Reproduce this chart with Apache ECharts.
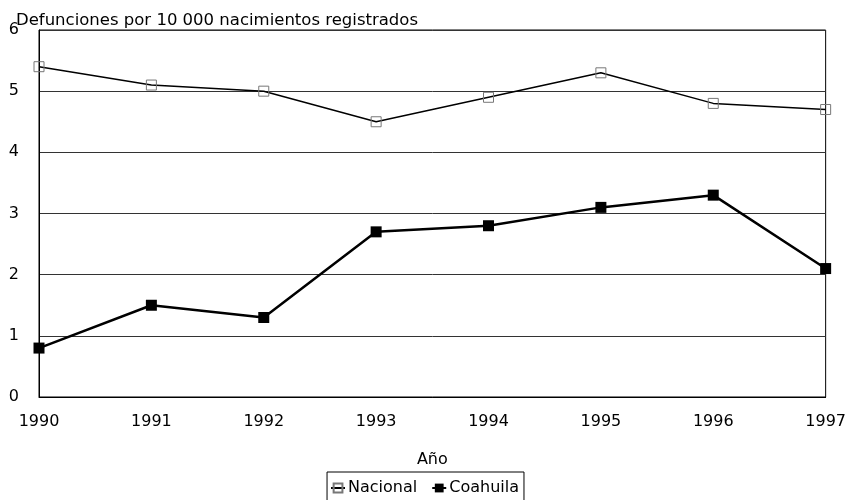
<!DOCTYPE html>
<html>
<head>
<meta charset="utf-8">
<script src="https://cdn.jsdelivr.net/npm/echarts@6/dist/echarts.min.js"></script>
<style>
  html, body { margin: 0; padding: 0; background: #fff; }
  #chart { width: 849px; height: 500px; }
</style>
</head>
<body>
<div id="chart"></div>
<script>
// datos
const years = ['1990', '1991', '1992', '1993', '1994', '1995', '1996', '1997']
const nacional = [5.4, 5.1, 5.0, 4.5, 4.9, 5.3, 4.8, 4.7]
const coahuila = [0.8, 1.5, 1.3, 2.7, 2.8, 3.1, 3.3, 2.1]

const chart = echarts.init(document.getElementById('chart'))
const font = 'DejaVu Sans, sans-serif'

chart.setOption({
  animation: false,
  textStyle: { fontFamily: font },
  title: {
    text: 'Defunciones por 10 000 nacimientos registrados',
    left: 11,
    top: 7,
    textStyle: { fontSize: 16.5, fontWeight: 'normal', color: '#000', fontFamily: font },
  },
  grid: {
    left: 39,
    right: 19,
    top: 30,
    bottom: 103,
    show: true,
    borderColor: '#000',
    borderWidth: 1,
  },
  legend: {
    data: ['Nacional', 'Coahuila'],
    top: 472,
    left: 'center',
    itemGap: 14,
    itemWidth: 14,
    itemHeight: 11,
    padding: [8, 5, 5, 3],
    borderColor: '#000',
    borderWidth: 1,
    borderRadius: 0,
    textStyle: { fontSize: 16, color: '#000', fontFamily: font, padding: [0, 0, 0, -2] },
  },
  xAxis: {
    type: 'category',
    boundaryGap: false,
    data: years,
    name: 'Año',
    nameLocation: 'middle',
    nameGap: 55,
    nameTextStyle: { fontSize: 16, color: '#000' },
    axisLine: { lineStyle: { color: '#000' } },
    axisTick: { show: false },
    axisLabel: { fontSize: 16, color: '#000', margin: 17 },
  },
  yAxis: {
    type: 'value',
    min: 0,
    max: 6,
    interval: 1,
    axisLine: { show: true, lineStyle: { color: '#000' } },
    axisTick: { show: false },
    axisLabel: { fontSize: 16, color: '#000', margin: 20 },
    splitLine: { lineStyle: { color: '#333', width: 1 } },
  },
  series: [
    {
      name: 'Nacional',
      type: 'line',
      data: nacional,
      symbol: 'rect',
      symbolSize: 10,
      lineStyle: { color: '#000', width: 1.5 },
      itemStyle: { color: 'rgba(255,255,255,0)', borderColor: '#777', borderWidth: 1 },
    },
    {
      name: 'Coahuila',
      type: 'line',
      data: coahuila,
      symbol: 'rect',
      symbolSize: 11,
      lineStyle: { color: '#000', width: 2.5 },
      itemStyle: { color: '#000' },
    },
  ],
})
</script>
</body>
</html>
